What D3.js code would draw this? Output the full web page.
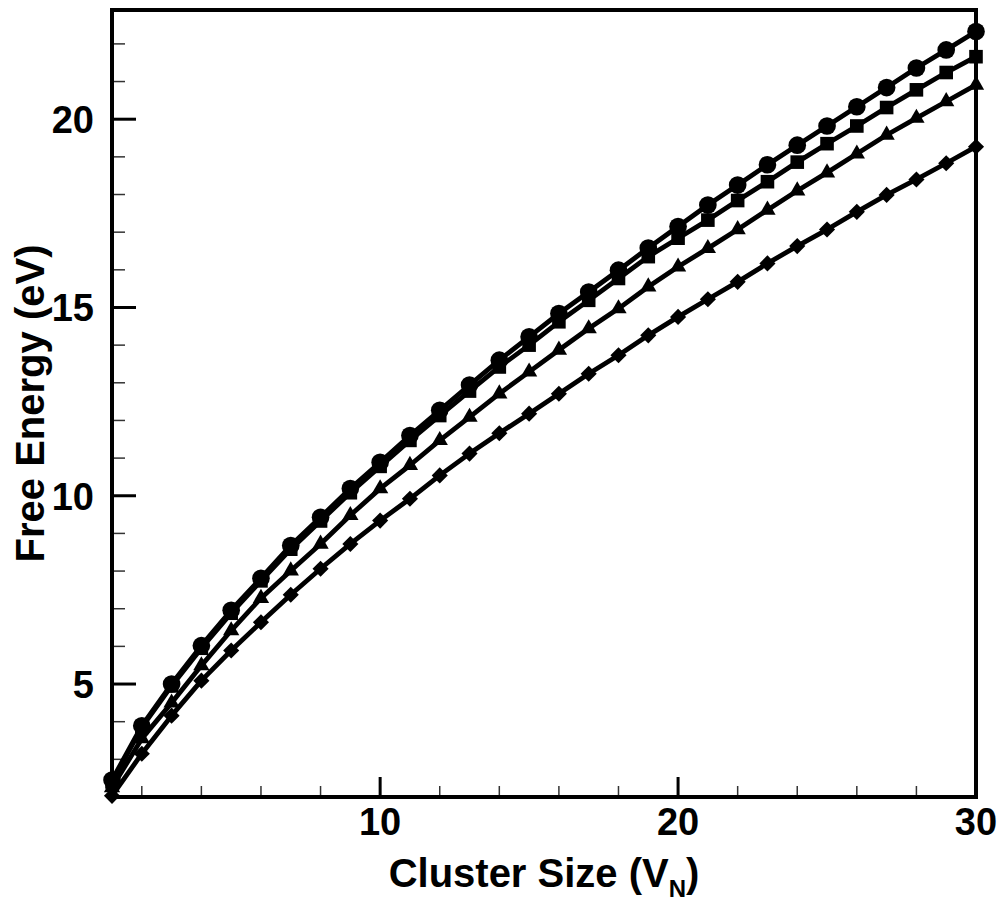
<!DOCTYPE html>
<html>
<head>
<meta charset="utf-8">
<script src="https://cdn.jsdelivr.net/npm/d3@7"></script>
<style>
  html, body { margin: 0; padding: 0; background: #fff; }
  svg { display: block; }
  text { font-family: "Liberation Sans", Arial, sans-serif; font-weight: bold; fill: #000; }
</style>
</head>
<body>
<svg id="chart" width="1004" height="909"></svg>
<script>
// ---- data ----
const clusterSize = d3.range(1, 31); // 1..30
const circleSeries = [2.45, 3.89, 5.00, 6.02, 6.96, 7.81, 8.68, 9.43, 10.19, 10.89,
  11.60, 12.27, 12.94, 13.60, 14.22, 14.84, 15.41, 15.99, 16.58, 17.15,
  17.72, 18.25, 18.79, 19.31, 19.82, 20.33, 20.84, 21.36, 21.84, 22.33];
const squareSeries = [2.40, 3.85, 4.95, 5.95, 6.88, 7.74, 8.58, 9.33, 10.08, 10.78,
  11.47, 12.13, 12.78, 13.42, 14.00, 14.62, 15.19, 15.77, 16.35, 16.84,
  17.32, 17.84, 18.34, 18.86, 19.35, 19.82, 20.31, 20.78, 21.24, 21.66];
const triangleSeries = [2.25, 3.55, 4.50, 5.49, 6.42, 7.28, 8.01, 8.72, 9.48, 10.19,
  10.81, 11.47, 12.09, 12.71, 13.29, 13.87, 14.44, 14.97, 15.55, 16.08,
  16.57, 17.07, 17.59, 18.10, 18.58, 19.08, 19.58, 20.03, 20.47, 20.91];
const diamondSeries = [2.03, 3.15, 4.16, 5.09, 5.89, 6.64, 7.37, 8.06, 8.72, 9.34,
  9.92, 10.54, 11.12, 11.66, 12.18, 12.71, 13.24, 13.73, 14.26, 14.75,
  15.22, 15.68, 16.17, 16.63, 17.07, 17.54, 17.99, 18.40, 18.83, 19.27];
const xMajorTicks = [10, 20, 30];
const xMinorTicks = [2, 4, 6, 8, 12, 14, 16, 18, 22, 24, 26, 28];
const yMajorTicks = [5, 10, 15, 20];
const yMinorTicks = [3, 4, 6, 7, 8, 9, 11, 12, 13, 14, 16, 17, 18, 19, 21, 22];
const xTitle = "Cluster Size (V";
const xTitleSub = "N";
const yTitle = "Free Energy (eV)";

(function () {
// ---- layout ----
const pL = 112, pR = 976, pT = 10, pB = 797;
const svg = d3.select("#chart");
const x = d3.scaleLinear().domain([1, 30]).range([pL, pR]);
const y = d3.scaleLinear().domain([2, 22.9]).range([pB, pT]);

// ticks (inside)
const gx = svg.append("g");
gx.selectAll("line.maj").data(xMajorTicks).join("line").attr("class", "maj")
  .attr("x1", d => x(d)).attr("x2", d => x(d))
  .attr("y1", pB).attr("y2", pB - 20)
  .attr("stroke", "#000").attr("stroke-width", 3);
gx.selectAll("line.min").data(xMinorTicks).join("line").attr("class", "min")
  .attr("x1", d => x(d)).attr("x2", d => x(d))
  .attr("y1", pB).attr("y2", pB - 11)
  .attr("stroke", "#333").attr("stroke-width", 1.5);
gx.selectAll("text").data(xMajorTicks).join("text")
  .attr("x", d => x(d)).attr("y", 835)
  .attr("text-anchor", "middle").attr("font-size", 38)
  .text(d => d);

const gy = svg.append("g");
gy.selectAll("line.maj").data(yMajorTicks).join("line").attr("class", "maj")
  .attr("x1", pL).attr("x2", pL + 24)
  .attr("y1", d => y(d)).attr("y2", d => y(d))
  .attr("stroke", "#000").attr("stroke-width", 3);
gy.selectAll("line.min").data(yMinorTicks).join("line").attr("class", "min")
  .attr("x1", pL).attr("x2", pL + 13)
  .attr("y1", d => y(d)).attr("y2", d => y(d))
  .attr("stroke", "#333").attr("stroke-width", 1.5);
gy.selectAll("text").data(yMajorTicks).join("text")
  .attr("x", 94).attr("y", d => y(d) + 14)
  .attr("text-anchor", "end").attr("font-size", 38)
  .text(d => d);

// frame
svg.append("rect").attr("x", pL).attr("y", pT)
  .attr("width", pR - pL).attr("height", pB - pT)
  .attr("fill", "none").attr("stroke", "#000").attr("stroke-width", 4);

// series
const series = [
  { vals: diamondSeries, sym: d3.symbolSquare, size: 130, rot: 45 },
  { vals: triangleSeries, sym: d3.symbolTriangle, size: 115, rot: 0 },
  { vals: squareSeries, sym: d3.symbolSquare, size: 185, rot: 0 },
  { vals: circleSeries, sym: d3.symbolCircle, size: 245, rot: 0 }
];
const line = d3.line().x((d, i) => x(clusterSize[i])).y(d => y(d));
series.forEach(s => {
  const g = svg.append("g");
  g.append("path").datum(s.vals).attr("d", line)
    .attr("fill", "none").attr("stroke", "#000").attr("stroke-width", 4.8)
    .attr("stroke-linejoin", "round");
  g.selectAll("path.m").data(s.vals).join("path")
    .attr("class", "m")
    .attr("transform", (d, i) => `translate(${x(clusterSize[i])},${y(d)}) rotate(${s.rot})`)
    .attr("d", d3.symbol().type(s.sym).size(s.size))
    .attr("fill", "#000");
});

// axis titles
const xt = svg.append("text").attr("x", (pL + pR) / 2).attr("y", 887)
  .attr("text-anchor", "middle").attr("font-size", 40);
xt.append("tspan").text(xTitle);
xt.append("tspan").attr("font-size", 24).attr("dy", 10).text(xTitleSub);
xt.append("tspan").attr("dy", -10).text(")");

svg.append("text")
  .attr("transform", `translate(44,${(pT + pB) / 2}) rotate(-90)`)
  .attr("text-anchor", "middle").attr("font-size", 40)
  .text(yTitle);
})();
</script>
</body>
</html>
